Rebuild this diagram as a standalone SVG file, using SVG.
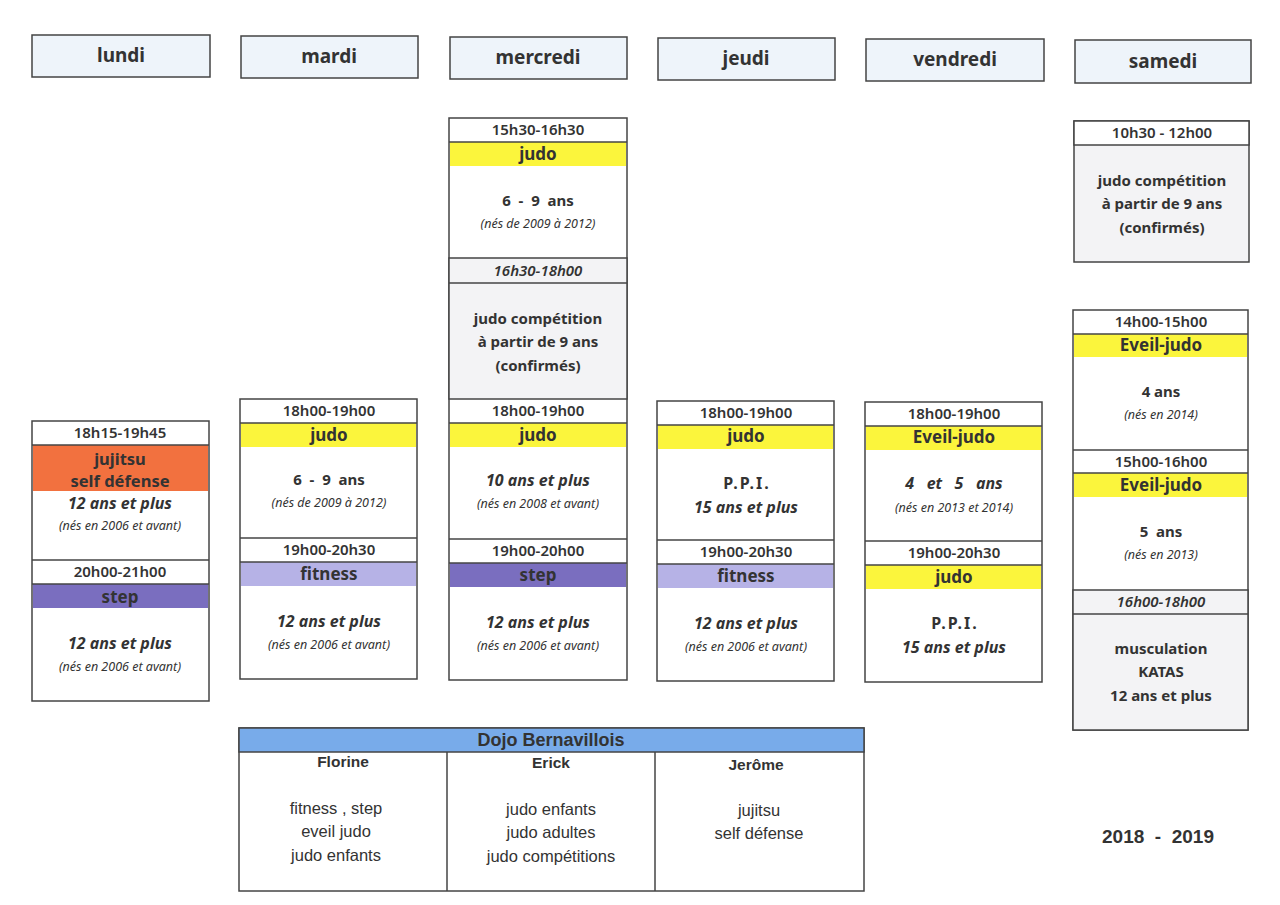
<svg xmlns="http://www.w3.org/2000/svg" width="1280" height="905" viewBox="0 0 1280 905">
<style>
text{font-family:"Noto Sans","DejaVu Sans",sans-serif;fill:#333;text-anchor:middle}
.box{fill:#fff;stroke:#444;stroke-width:1.5}
.hd{fill:#eef4fa;stroke:#444;stroke-width:1.5}
.gray{fill:#f3f3f5;stroke:#444;stroke-width:1.5}
.ln{stroke:#444;stroke-width:1.5}
.yel{fill:#fbf53c}
.ora{fill:#f2713f}
.pur{fill:#7a6ebf}
.lav{fill:#b6b2e6}
.day{font-size:19px;font-weight:700}
.t{font-size:15px;font-weight:600}
.ti{font-size:15px;font-weight:600;font-style:italic}
.a{font-size:17px;font-weight:700}
.a2{font-size:16.5px;font-weight:700}
.b{font-size:15px;font-weight:700}
.p{font-size:16px;font-weight:700;letter-spacing:2px}
.bi{font-size:16px;font-weight:700;font-style:italic}
.s{font-size:12.5px;font-style:italic}
.ar{font-family:"Liberation Sans",Arial,sans-serif;font-size:16.5px}
.arb{font-family:"Liberation Sans",Arial,sans-serif;font-weight:700}
</style>

<g id="headers">
<g id="h-lundi"><rect class="hd" x="32" y="35" width="178" height="42"/><text class="day" x="121" y="62">lundi</text></g>
<g id="h-mardi"><rect class="hd" x="241" y="36" width="177" height="42"/><text class="day" x="329" y="63">mardi</text></g>
<g id="h-mercredi"><rect class="hd" x="450" y="37" width="177" height="42"/><text class="day" x="538" y="64">mercredi</text></g>
<g id="h-jeudi"><rect class="hd" x="658" y="38" width="177" height="42"/><text class="day" x="746" y="65">jeudi</text></g>
<g id="h-vendredi"><rect class="hd" x="866" y="39" width="178" height="42"/><text class="day" x="955" y="66">vendredi</text></g>
<g id="h-samedi"><rect class="hd" x="1075" y="40" width="176" height="43"/><text class="day" x="1163" y="68">samedi</text></g>
</g>

<g id="lundi">
<rect class="box" x="32" y="421" width="177" height="280"/>
<rect class="ora" x="33" y="445" width="175" height="46"/>
<rect class="pur" x="33" y="584" width="175" height="24"/>
<line class="ln" x1="32" y1="445" x2="209" y2="445"/>
<line class="ln" x1="32" y1="560" x2="209" y2="560"/>
<line class="ln" x1="32" y1="584" x2="209" y2="584"/>
<text class="t" x="120" y="438">18h15-19h45</text>
<text class="a2" x="120" y="465">jujitsu</text>
<text class="a2" x="120" y="487">self défense</text>
<text class="bi" x="120" y="509">12 ans et plus</text>
<text class="s" x="120" y="530">(nés en 2006 et avant)</text>
<text class="t" x="120" y="577">20h00-21h00</text>
<text class="a" x="120" y="603">step</text>
<text class="bi" x="120" y="649">12 ans et plus</text>
<text class="s" x="120" y="671">(nés en 2006 et avant)</text>
</g>

<g id="mardi">
<rect class="box" x="240" y="399" width="177" height="280"/>
<rect class="yel" x="241" y="423" width="175" height="24"/>
<rect class="lav" x="241" y="562" width="175" height="24"/>
<line class="ln" x1="240" y1="423" x2="417" y2="423"/>
<line class="ln" x1="240" y1="538" x2="417" y2="538"/>
<line class="ln" x1="240" y1="562" x2="417" y2="562"/>
<text class="t" x="329" y="416">18h00-19h00</text>
<text class="a" x="329" y="441">judo</text>
<text class="b" x="329" y="485" xml:space="preserve">6  -  9  ans</text>
<text class="s" x="329" y="507">(nés de 2009 à 2012)</text>
<text class="t" x="329" y="555">19h00-20h30</text>
<text class="a" x="329" y="580">fitness</text>
<text class="bi" x="329" y="627">12 ans et plus</text>
<text class="s" x="329" y="649">(nés en 2006 et avant)</text>
</g>

<g id="mercredi">
<rect class="box" x="449" y="118" width="178" height="562"/>
<rect class="gray" x="449" y="258" width="178" height="141"/>
<rect class="yel" x="450" y="142" width="176" height="24"/>
<rect class="yel" x="450" y="423" width="176" height="24"/>
<rect class="pur" x="450" y="563" width="176" height="24"/>
<line class="ln" x1="449" y1="142" x2="627" y2="142"/>
<line class="ln" x1="449" y1="283" x2="627" y2="283"/>
<line class="ln" x1="449" y1="423" x2="627" y2="423"/>
<line class="ln" x1="449" y1="539" x2="627" y2="539"/>
<line class="ln" x1="449" y1="563" x2="627" y2="563"/>
<text class="t" x="538" y="135">15h30-16h30</text>
<text class="a" x="538" y="160">judo</text>
<text class="b" x="538" y="206" xml:space="preserve">6  -  9  ans</text>
<text class="s" x="538" y="228">(nés de 2009 à 2012)</text>
<text class="ti" x="538" y="276">16h30-18h00</text>
<text class="b" x="538" y="324">judo compétition</text>
<text class="b" x="538" y="347">à partir de 9 ans</text>
<text class="b" x="538" y="371">(confirmés)</text>
<text class="t" x="538" y="416">18h00-19h00</text>
<text class="a" x="538" y="441">judo</text>
<text class="bi" x="538" y="486">10 ans et plus</text>
<text class="s" x="538" y="508">(nés en 2008 et avant)</text>
<text class="t" x="538" y="556">19h00-20h00</text>
<text class="a" x="538" y="581">step</text>
<text class="bi" x="538" y="628">12 ans et plus</text>
<text class="s" x="538" y="650">(nés en 2006 et avant)</text>
</g>

<g id="jeudi">
<rect class="box" x="657" y="401" width="177" height="280"/>
<rect class="yel" x="658" y="425" width="175" height="24"/>
<rect class="lav" x="658" y="564" width="175" height="24"/>
<line class="ln" x1="657" y1="425" x2="834" y2="425"/>
<line class="ln" x1="657" y1="540" x2="834" y2="540"/>
<line class="ln" x1="657" y1="564" x2="834" y2="564"/>
<text class="t" x="746" y="418">18h00-19h00</text>
<text class="a" x="746" y="442">judo</text>
<text class="p" x="747" y="489">P.P.I.</text>
<text class="bi" x="746" y="513">15 ans et plus</text>
<text class="t" x="746" y="557">19h00-20h30</text>
<text class="a" x="746" y="582">fitness</text>
<text class="bi" x="746" y="629">12 ans et plus</text>
<text class="s" x="746" y="651">(nés en 2006 et avant)</text>
</g>

<g id="vendredi">
<rect class="box" x="865" y="402" width="177" height="280"/>
<rect class="yel" x="866" y="426" width="175" height="24"/>
<rect class="yel" x="866" y="565" width="175" height="24"/>
<line class="ln" x1="865" y1="426" x2="1042" y2="426"/>
<line class="ln" x1="865" y1="541" x2="1042" y2="541"/>
<line class="ln" x1="865" y1="565" x2="1042" y2="565"/>
<text class="t" x="954" y="419">18h00-19h00</text>
<text class="a" x="954" y="443">Eveil-judo</text>
<text class="bi" x="954" y="489" xml:space="preserve">4   et   5   ans</text>
<text class="s" x="954" y="512">(nés en 2013 et 2014)</text>
<text class="t" x="954" y="558">19h00-20h30</text>
<text class="a" x="954" y="583">judo</text>
<text class="p" x="955" y="629">P.P.I.</text>
<text class="bi" x="954" y="653">15 ans et plus</text>
</g>

<g id="samedi-matin">
<rect class="gray" x="1074" y="121" width="175" height="141"/>
<rect class="box" x="1074" y="121" width="175" height="24"/>
<text class="t" x="1162" y="138">10h30 - 12h00</text>
<text class="b" x="1162" y="186">judo compétition</text>
<text class="b" x="1162" y="209">à partir de 9 ans</text>
<text class="b" x="1162" y="233">(confirmés)</text>
</g>

<g id="samedi-apres-midi">
<rect class="box" x="1073" y="310" width="175" height="420"/>
<rect class="gray" x="1073" y="590" width="175" height="140"/>
<rect class="yel" x="1074" y="334" width="173" height="23"/>
<rect class="yel" x="1074" y="473" width="173" height="24"/>
<line class="ln" x1="1073" y1="334" x2="1248" y2="334"/>
<line class="ln" x1="1073" y1="450" x2="1248" y2="450"/>
<line class="ln" x1="1073" y1="473" x2="1248" y2="473"/>
<line class="ln" x1="1073" y1="614" x2="1248" y2="614"/>
<text class="t" x="1161" y="327">14h00-15h00</text>
<text class="a" x="1161" y="351">Eveil-judo</text>
<text class="b" x="1161" y="397" font-size="16">4 ans</text>
<text class="s" x="1161" y="419">(nés en 2014)</text>
<text class="t" x="1161" y="467">15h00-16h00</text>
<text class="a" x="1161" y="491">Eveil-judo</text>
<text class="b" x="1161" y="537" font-size="16" xml:space="preserve">5  ans</text>
<text class="s" x="1161" y="559">(nés en 2013)</text>
<text class="ti" x="1161" y="607">16h00-18h00</text>
<text class="b" x="1161" y="654">musculation</text>
<text class="b" x="1161" y="677">KATAS</text>
<text class="b" x="1161" y="701">12 ans et plus</text>
</g>

<g id="dojo">
<rect class="box" x="239" y="728" width="625" height="163"/>
<rect x="239" y="728" width="625" height="24" fill="#78abea" stroke="#444" stroke-width="1.5"/>
<line class="ln" x1="447" y1="752" x2="447" y2="891"/>
<line class="ln" x1="655" y1="752" x2="655" y2="891"/>
<text class="arb" x="551" y="746" font-size="18">Dojo Bernavillois</text>
<text class="arb" x="343" y="767" font-size="15.5">Florine</text>
<text class="arb" x="551" y="768" font-size="15.5">Erick</text>
<text class="arb" x="756" y="770" font-size="15.5">Jerôme</text>
<text class="ar" x="336" y="814">fitness , step</text>
<text class="ar" x="336" y="837">eveil judo</text>
<text class="ar" x="336" y="861">judo enfants</text>
<text class="ar" x="551" y="815">judo enfants</text>
<text class="ar" x="551" y="838">judo adultes</text>
<text class="ar" x="551" y="862">judo compétitions</text>
<text class="ar" x="759" y="816">jujitsu</text>
<text class="ar" x="759" y="839">self défense</text>
</g>

<text class="arb" x="1158" y="843" font-size="19" xml:space="preserve">2018  -  2019</text>
</svg>
